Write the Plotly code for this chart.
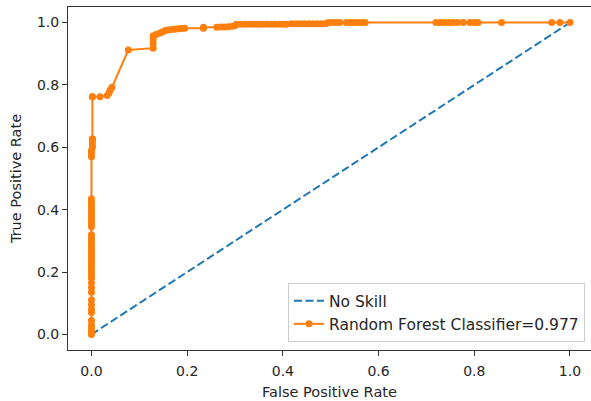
import plotly.graph_objects as go

# No-skill diagonal
ns_fpr = [0.0, 1.0]
ns_tpr = [0.0, 1.0]

# Random forest ROC points
rf_fpr = [
    0.0, 0.0, 0.0, 0.0, 0.0, 0.0, 0.0, 0.0, 0.0, 0.0,
    0.0, 0.0, 0.0, 0.0, 0.0, 0.0, 0.0, 0.0, 0.0, 0.0,
    0.0, 0.0, 0.0, 0.0, 0.0, 0.0, 0.0, 0.0, 0.0, 0.0,
    0.0, 0.0, 0.0, 0.0, 0.0, 0.0, 0.0, 0.0, 0.0, 0.0,
    0.002, 0.002, 0.002, 0.002, 0.002, 0.002, 0.002,
    0.018, 0.033, 0.037, 0.039, 0.043, 0.077,
    0.129, 0.129, 0.129, 0.129, 0.135, 0.142, 0.148, 0.154, 0.160, 0.167,
    0.174, 0.181, 0.188, 0.195, 0.234, 0.234,
    0.262, 0.270, 0.278, 0.286, 0.294, 0.300,
    0.303, 0.312, 0.321, 0.330, 0.339, 0.348, 0.357, 0.366, 0.375, 0.384,
    0.393, 0.402, 0.408,
    0.418, 0.427, 0.436, 0.445, 0.454, 0.463, 0.472, 0.481, 0.490,
    0.495, 0.503, 0.511, 0.519,
    0.533, 0.541, 0.549, 0.557, 0.565, 0.572,
    0.720, 0.729, 0.738, 0.747, 0.756, 0.765,
    0.777, 0.791, 0.800, 0.808, 0.857, 0.962, 0.979, 1.0,
]
rf_tpr = [
    0.0, 0.01, 0.02, 0.03, 0.045, 0.07, 0.08, 0.095, 0.11, 0.135,
    0.15, 0.165, 0.18, 0.19, 0.20, 0.21, 0.22, 0.23, 0.24, 0.25,
    0.26, 0.27, 0.28, 0.29, 0.30, 0.31, 0.32, 0.345, 0.355, 0.365,
    0.375, 0.385, 0.395, 0.405, 0.415, 0.425, 0.435, 0.57, 0.58, 0.59,
    0.60, 0.61, 0.62, 0.627, 0.627, 0.762, 0.762,
    0.762, 0.766, 0.775, 0.784, 0.793, 0.912,
    0.918, 0.932, 0.946, 0.958, 0.962, 0.966, 0.970, 0.975, 0.976, 0.978,
    0.979, 0.980, 0.981, 0.982, 0.982, 0.985,
    0.985, 0.986, 0.986, 0.987, 0.988, 0.990,
    0.995, 0.995, 0.995, 0.995, 0.995, 0.995, 0.995, 0.995, 0.995, 0.995,
    0.995, 0.995, 0.995,
    0.996, 0.996, 0.996, 0.996, 0.996, 0.996, 0.996, 0.996, 0.997,
    1.0, 1.0, 1.0, 1.0,
    1.0, 1.0, 1.0, 1.0, 1.0, 1.0,
    1.0, 1.0, 1.0, 1.0, 1.0, 1.0,
    1.0, 1.0, 1.0, 1.0, 1.0, 1.0, 1.0, 1.0,
]

auc_label = "Random Forest Classifier=0.977"
x_ticks = [0.0, 0.2, 0.4, 0.6, 0.8, 1.0]
y_ticks = [0.0, 0.2, 0.4, 0.6, 0.8, 1.0]

FONT = "DejaVu Sans"
TXT = "#262626"

fig = go.Figure()
fig.add_trace(go.Scatter(
    x=ns_fpr, y=ns_tpr, mode="lines", name="No Skill",
    line=dict(color="#1f77b4", width=2, dash="8px,3.5px"),
))
fig.add_trace(go.Scatter(
    x=rf_fpr, y=rf_tpr, mode="lines+markers", name=auc_label,
    line=dict(color="#ff7f0e", width=2),
    marker=dict(color="#ff7f0e", size=7),
))

axis_common = dict(
    showgrid=False, zeroline=False, showline=True, linecolor="#333",
    linewidth=1, ticks="outside", ticklen=5, tickwidth=1, tickcolor="#333",
    tickfont=dict(family=FONT, size=14, color=TXT),
    tickformat=".1f",
)

fig.update_layout(
    width=591, height=401,
    margin=dict(l=68, r=0, t=7, b=51),
    plot_bgcolor="white", paper_bgcolor="white",
    font=dict(family=FONT, size=14, color=TXT),
    xaxis=dict(
        range=[-0.049, 1.044], tickvals=x_ticks, mirror=True,
        ticklabelstandoff=3,
        title=dict(text="False Positive Rate", font=dict(family=FONT, size=14.5, color=TXT), standoff=9),
        **axis_common,
    ),
    yaxis=dict(
        range=[-0.05, 1.05], tickvals=y_ticks,
        title=dict(text="True Positive Rate", font=dict(family=FONT, size=14.5, color=TXT), standoff=11),
        **axis_common,
    ),
    legend=dict(
        x=0.9885, y=0.023, xanchor="right", yanchor="bottom",
        bgcolor="rgba(255,255,255,0.8)", bordercolor="#cccccc", borderwidth=1,
        font=dict(family=FONT, size=15.5, color=TXT),
        tracegroupgap=0,
    ),
    showlegend=True,
)

fig.write_html("out.html")
